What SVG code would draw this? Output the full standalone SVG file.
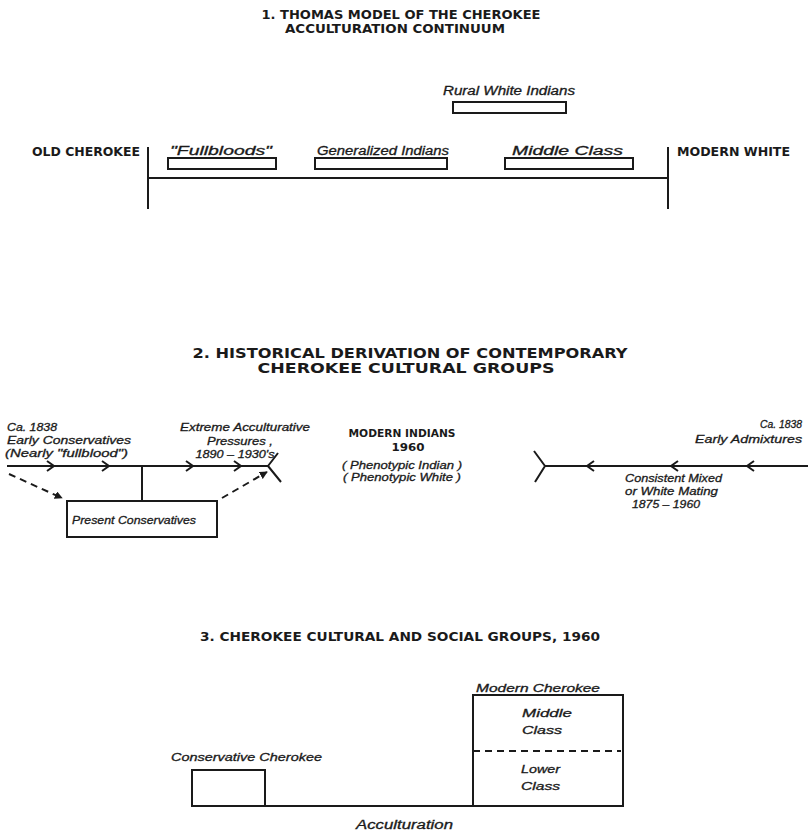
<svg xmlns="http://www.w3.org/2000/svg" width="810" height="832" viewBox="0 0 810 832">
<defs>
<style>
.ttl{font-family:"DejaVu Sans Condensed","DejaVu Sans","Liberation Sans",sans-serif;font-weight:bold;fill:#1a1a1a}
.lbl{font-family:"Liberation Sans",Arial,sans-serif;font-style:italic;fill:#1a1a1a;stroke:#1a1a1a;stroke-width:0.3}
.ln{stroke:#1a1a1a;stroke-width:2;fill:none}
.box{stroke:#1a1a1a;stroke-width:2;fill:none}
.dash{stroke:#1a1a1a;stroke-width:2;fill:none;stroke-dasharray:7 5}
</style>
<marker id="ah" viewBox="0 0 10 10" refX="9" refY="5" markerWidth="4" markerHeight="4" orient="auto">
<path d="M0,0 L10,5 L0,10 z" fill="#1a1a1a"/>
</marker>
</defs>
<rect width="810" height="832" fill="#ffffff"/>

<!-- Section 1 -->
<g id="title1">
<text class="ttl" x="401" y="19" font-size="12" text-anchor="middle" textLength="279" lengthAdjust="spacingAndGlyphs">1. THOMAS MODEL OF THE CHEROKEE</text>
<text class="ttl" x="395" y="33" font-size="12" text-anchor="middle" textLength="220" lengthAdjust="spacingAndGlyphs">ACCULTURATION  CONTINUUM</text>
</g>
<g id="old-cherokee"><text class="ttl" x="32" y="156" font-size="12" textLength="108" lengthAdjust="spacingAndGlyphs">OLD CHEROKEE</text></g>
<g id="modern-white"><text class="ttl" x="677" y="156" font-size="12" textLength="113" lengthAdjust="spacingAndGlyphs">MODERN WHITE</text></g>
<g id="rural-white-indians">
<text class="lbl" x="443" y="95" font-size="12" textLength="132" lengthAdjust="spacingAndGlyphs">Rural White Indians</text>
<rect class="box" x="453" y="102" width="113" height="11"/>
</g>
<g id="fullbloods">
<text class="lbl" x="170" y="155" font-size="12" textLength="102" lengthAdjust="spacingAndGlyphs">"Fullbloods"</text>
<rect class="box" x="168" y="158" width="108" height="11"/>
</g>
<g id="generalized-indians">
<text class="lbl" x="317" y="155" font-size="12" textLength="132" lengthAdjust="spacingAndGlyphs">Generalized Indians</text>
<rect class="box" x="315" y="158" width="132" height="11"/>
</g>
<g id="middle-class-1">
<text class="lbl" x="512" y="155" font-size="12" textLength="111" lengthAdjust="spacingAndGlyphs">Middle   Class</text>
<rect class="box" x="505" y="158" width="128" height="11"/>
</g>
<g id="connectors-1">
<line class="ln" x1="148" y1="178" x2="668" y2="178"/>
<line class="ln" x1="148" y1="147" x2="148" y2="209"/>
<line class="ln" x1="668" y1="147" x2="668" y2="209"/>
</g>

<!-- Section 2 -->
<g id="title2">
<text class="ttl" x="410" y="358" font-size="14" text-anchor="middle" textLength="435" lengthAdjust="spacingAndGlyphs">2. HISTORICAL DERIVATION OF CONTEMPORARY</text>
<text class="ttl" x="406" y="373" font-size="14" text-anchor="middle" textLength="297" lengthAdjust="spacingAndGlyphs">CHEROKEE   CULTURAL   GROUPS</text>
</g>
<g id="early-conservatives">
<text class="lbl" x="7" y="431" font-size="11" textLength="50" lengthAdjust="spacingAndGlyphs">Ca. 1838</text>
<text class="lbl" x="7" y="444" font-size="11" textLength="124" lengthAdjust="spacingAndGlyphs">Early Conservatives</text>
<text class="lbl" x="5" y="457" font-size="11" textLength="123" lengthAdjust="spacingAndGlyphs">(Nearly "fullblood")</text>
</g>
<g id="extreme-pressures">
<text class="lbl" x="245" y="431" font-size="11" text-anchor="middle" textLength="130" lengthAdjust="spacingAndGlyphs">Extreme Acculturative</text>
<text class="lbl" x="240" y="445" font-size="11" text-anchor="middle" textLength="66" lengthAdjust="spacingAndGlyphs">Pressures ,</text>
<text class="lbl" x="235" y="458" font-size="11" text-anchor="middle" textLength="79" lengthAdjust="spacingAndGlyphs">1890 – 1930's</text>
</g>
<g id="modern-indians">
<text class="ttl" x="402" y="437" font-size="11" text-anchor="middle" textLength="107" lengthAdjust="spacingAndGlyphs">MODERN INDIANS</text>
<text class="ttl" x="408" y="451" font-size="11" text-anchor="middle" textLength="33" lengthAdjust="spacingAndGlyphs">1960</text>
<text class="lbl" x="402" y="469" font-size="11" text-anchor="middle" textLength="120" lengthAdjust="spacingAndGlyphs">( Phenotypic Indian )</text>
<text class="lbl" x="402" y="481" font-size="11" text-anchor="middle" textLength="118" lengthAdjust="spacingAndGlyphs">( Phenotypic White )</text>
</g>
<g id="early-admixtures">
<text class="lbl" x="802" y="428" font-size="11" text-anchor="end" textLength="42" lengthAdjust="spacingAndGlyphs">Ca. 1838</text>
<text class="lbl" x="802" y="443" font-size="11" text-anchor="end" textLength="107" lengthAdjust="spacingAndGlyphs">Early  Admixtures</text>
</g>
<g id="mixed-mating">
<text class="lbl" x="625" y="482" font-size="11" textLength="97" lengthAdjust="spacingAndGlyphs">Consistent  Mixed</text>
<text class="lbl" x="625" y="495" font-size="11" textLength="93" lengthAdjust="spacingAndGlyphs">or White Mating</text>
<text class="lbl" x="632" y="508" font-size="11" textLength="68" lengthAdjust="spacingAndGlyphs">1875 – 1960</text>
</g>
<g id="present-conservatives">
<rect class="box" x="67" y="501" width="150" height="36"/>
<text class="lbl" x="72" y="524" font-size="11" textLength="124" lengthAdjust="spacingAndGlyphs">Present  Conservatives</text>
</g>
<g id="connectors-2">
<line class="ln" x1="7" y1="466" x2="268" y2="466"/>
<path class="ln" d="M47,461 L54,466 L47,471 M102,461 L109,466 L102,471 M186,461 L193,466 L186,471 M234,461 L241,466 L234,471"/>
<path class="ln" d="M268,466 L278,453 M268,466 L281,482"/>
<line class="ln" x1="142" y1="466" x2="142" y2="501"/>
<line class="dash" x1="9" y1="474" x2="62" y2="498" marker-end="url(#ah)"/>
<line class="dash" x1="222" y1="498" x2="267" y2="472" marker-end="url(#ah)"/>
<line class="ln" x1="545" y1="466" x2="808" y2="466"/>
<path class="ln" d="M545,466 L534,451 M545,466 L535,482"/>
<path class="ln" d="M594,461 L587,466 L594,471 M678,461 L671,466 L678,471 M754,461 L747,466 L754,471"/>
</g>

<!-- Section 3 -->
<g id="title3">
<text class="ttl" x="400" y="641" font-size="13" text-anchor="middle" textLength="400" lengthAdjust="spacingAndGlyphs">3. CHEROKEE CULTURAL AND SOCIAL GROUPS, 1960</text>
</g>
<g id="conservative-cherokee">
<text class="lbl" x="171" y="761" font-size="11" textLength="151" lengthAdjust="spacingAndGlyphs">Conservative Cherokee</text>
<rect class="box" x="192" y="770" width="73" height="36"/>
</g>
<g id="modern-cherokee">
<text class="lbl" x="476" y="692" font-size="11" textLength="124" lengthAdjust="spacingAndGlyphs">Modern  Cherokee</text>
<rect class="box" x="473" y="695" width="150" height="111"/>
<line class="dash" x1="473" y1="751" x2="621" y2="751" stroke-dasharray="12 5"/>
<text class="lbl" x="522" y="717" font-size="11" textLength="50" lengthAdjust="spacingAndGlyphs">Middle</text>
<text class="lbl" x="522" y="734" font-size="11" textLength="40" lengthAdjust="spacingAndGlyphs">Class</text>
<text class="lbl" x="521" y="773" font-size="11" textLength="39" lengthAdjust="spacingAndGlyphs">Lower</text>
<text class="lbl" x="521" y="790" font-size="11" textLength="39" lengthAdjust="spacingAndGlyphs">Class</text>
</g>
<g id="connectors-3">
<line class="ln" x1="192" y1="806" x2="623" y2="806"/>
<text class="lbl" x="356" y="829" font-size="12" textLength="97" lengthAdjust="spacingAndGlyphs">Acculturation</text>
</g>
</svg>
